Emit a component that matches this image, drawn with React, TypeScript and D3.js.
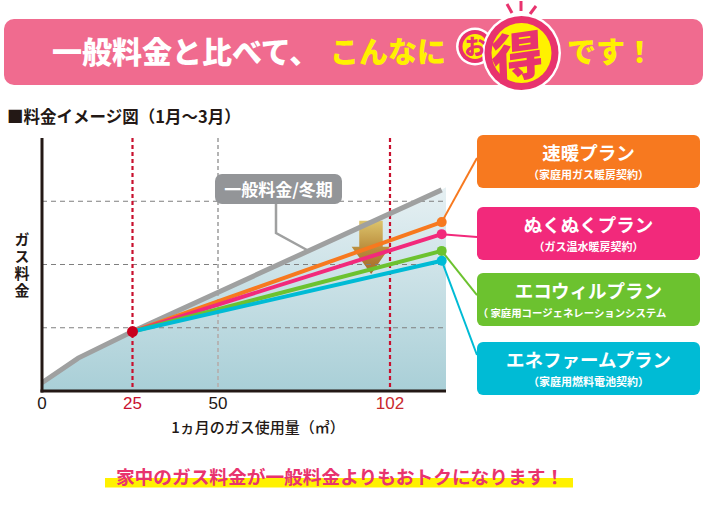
import React from 'react';
import * as d3 from 'd3';

// ---- data ----
const xDomainBreaks = [0, 25, 50, 102, 115];
const xTicks = [0, 25, 50, 102];
const yGridValues = [1, 2, 3];
const generalX = [0, 10, 25, 114];
const generalY = [0.13, 0.52, 0.94, 3.18];
const planNames = ['速暖プラン', 'ぬくぬくプラン', 'エコウィルプラン', 'エネファームプラン'];
const planSubs = ['（家庭用ガス暖房契約）', '（ガス温水暖房契約）', '（ 家庭用コージェネレーションシステム', '（家庭用燃料電池契約）'];
const planStart = { x: 25, y: 0.94 };
const planEndX = 114;
const planEndY = [2.67, 2.48, 2.215, 2.06];
const highlightX = [25, 102];
const referenceX = [50];
const arrowShape: [number, number][] = [
  [92.7, 2.69], [99.8, 2.69], [99.8, 2.28], [102, 2.28], [96.3, 1.85], [90.4, 2.28], [92.7, 2.28],
];

// ---- style / layout ----
const planColors = ['#f7791f', '#f2297b', '#6cc22f', '#00bbd5'];
const boxTops = [135, 207, 273, 342];
const boxH = 53;
const boxX = 477;
const boxW = 223;
const connectorY = [158, 237, 295, 355];
const tickColors: Record<number, string> = { 0: '#231815', 25: '#c8102e', 50: '#231815', 102: '#c8282d' };
const JP = '"Noto Sans CJK JP", "Noto Sans", sans-serif';
const NUM = '"Liberation Sans", Arial, sans-serif';

const x = d3.scaleLinear().domain(xDomainBreaks).range([42, 132.5, 218, 390, 446]);
const y = d3.scaleLinear().domain([0, 4]).range([391, 138]);

export default function App() {
  const general = generalX.map((v, i) => ({ x: v, y: generalY[i] }));
  const areaData = [...general, { x: 115, y: 3.22 }];
  const line = d3.line<{ x: number; y: number }>().x(d => x(d.x)).y(d => y(d.y));
  const area = d3.area<{ x: number; y: number }>().x(d => x(d.x)).y0(y(0)).y1(d => y(d.y));
  const arrowPath = d3.line<[number, number]>().x(d => x(d[0])).y(d => y(d[1]))(arrowShape) + 'Z';
  const x0 = x(0), x1 = x(115), yTop = y(4), yBot = y(0);

  return (
    <svg width={705} height={505} style={{ position: 'absolute', left: 0, top: 0, background: '#fff' }}>
      <defs>
        <linearGradient id="fillGrad" x1="0" y1={y(3.22)} x2="0" y2={yBot} gradientUnits="userSpaceOnUse">
          <stop offset="0" stopColor="#e6f0f3" />
          <stop offset="1" stopColor="#a9cfd7" />
        </linearGradient>
        <linearGradient id="arrowGrad" x1="0" y1="0" x2="0" y2="1">
          <stop offset="0" stopColor="#dcc46c" />
          <stop offset="0.55" stopColor="#b98a3a" />
          <stop offset="1" stopColor="#a5672a" />
        </linearGradient>
      </defs>

      {/* Header banner */}
      <rect x={4} y={19} width={699} height={66} rx={10} fill="#f06b8f" />
      <text x={52} y={63} fontFamily={JP} fontWeight={900} fontSize={30} fill="#fff">一般料金と比べて、</text>
      <text x={330} y={63} fontFamily={JP} fontWeight={900} fontSize={29} fill="#fff100">こんなに</text>
      <text x={567} y={63} fontFamily={JP} fontWeight={900} fontSize={29} fill="#fff100">です！</text>
      {/* badge */}
      <g>
        <line x1={507} y1={4} x2={512} y2={13} stroke="#e8336e" strokeWidth={3} />
        <line x1={521} y1={1} x2={521} y2={11} stroke="#e8336e" strokeWidth={3} />
        <line x1={536} y1={6} x2={530} y2={14} stroke="#e8336e" strokeWidth={3} />
        <circle cx={475} cy={46.5} r={19} fill="#fff" />
        <circle cx={475} cy={46.5} r={16.5} fill="#e8336e" />
        <circle cx={475} cy={46.5} r={12.5} fill="#fff100" />
        <circle cx={521.5} cy={53} r={39.5} fill="#fff" />
        <circle cx={521.5} cy={53} r={37} fill="#e8336e" />
        <circle cx={521.5} cy={53} r={30} fill="#fff100" />
        <text x={475} y={54} textAnchor="middle" fontFamily={JP} fontWeight={900} fontSize={21} fill="#e8336e">お</text>
        <text x={0} y={0} textAnchor="middle" fontFamily={JP} fontWeight={900} fontSize={52} fill="#e8336e"
          transform="translate(518,76) rotate(-8) skewX(-6)">得</text>
      </g>

      {/* Subtitle */}
      <text x={7} y={123} fontFamily={JP} fontWeight={700} fontSize={16.5} fill="#231815">■料金イメージ図（1月〜3月）</text>

      {/* plot */}
      <path d={area(areaData) || ''} fill="url(#fillGrad)" />
      <path d={arrowPath} fill="url(#arrowGrad)" />
      {yGridValues.map(v => (
        <line key={v} x1={x0} x2={x1} y1={y(v)} y2={y(v)} stroke="#7f7f7f" strokeWidth={1} strokeDasharray="5,4" />
      ))}
      {referenceX.map(v => (
        <line key={v} x1={x(v)} x2={x(v)} y1={yTop} y2={yBot} stroke="#b4b4b4" strokeWidth={2} strokeDasharray="4,3" />
      ))}
      {highlightX.map(v => (
        <line key={v} x1={x(v)} x2={x(v)} y1={yTop} y2={yBot} stroke="#c8102e" strokeWidth={2.2} strokeDasharray="4,3" />
      ))}

      {/* leader for general label */}
      <polyline points="276,204 276,233 307,250" fill="none" stroke="#9fa0a0" strokeWidth={2.5} />
      <path d={line(general) || ''} fill="none" stroke="#9fa0a0" strokeWidth={5} />

      {/* plan lines */}
      {planEndY.map((v, i) => (
        <path key={i} d={line([planStart, { x: planEndX, y: v }]) || ''} fill="none" stroke={planColors[i]} strokeWidth={4} />
      ))}
      {/* connectors */}
      {planEndY.map((v, i) => (
        <line key={i} x1={x(planEndX)} y1={y(v)} x2={boxX} y2={connectorY[i]} stroke={planColors[i]} strokeWidth={2} />
      ))}
      {planEndY.map((v, i) => (
        <circle key={i} cx={x(planEndX)} cy={y(v)} r={5} fill={planColors[i]} />
      ))}
      <circle cx={x(planStart.x)} cy={y(planStart.y)} r={5.5} fill="#c8001e" />

      {/* general label box */}
      <rect x={215} y={174} width={127} height={30} rx={7} fill="#939598" />
      <text x={278.5} y={196} textAnchor="middle" fontFamily={JP} fontWeight={700} fontSize={17} fill="#fff">一般料金/冬期</text>

      {/* axes */}
      <line x1={x0} x2={x0} y1={yTop} y2={yBot + 1.5} stroke="#231815" strokeWidth={3} />
      <line x1={x0 - 1.5} x2={x1} y1={yBot} y2={yBot} stroke="#231815" strokeWidth={3} />
      {xTicks.map(t => (
        <text key={t} x={x(t)} y={409} textAnchor="middle" fontFamily={NUM} fontSize={17} fill={tickColors[t]}>{t}</text>
      ))}
      <text x={258} y={433} textAnchor="middle" fontFamily={JP} fontWeight={500} fontSize={15} fill="#231815">1ヵ月のガス使用量（㎥）</text>
      <text x={22} y={232} fontFamily={JP} fontWeight={700} fontSize={15} fill="#231815"
        letterSpacing={2} style={{ writingMode: 'vertical-rl' }}>ガス料金</text>

      {/* legend boxes */}
      {planNames.map((n, i) => (
        <g key={i}>
          <rect x={boxX} y={boxTops[i]} width={boxW} height={boxH} rx={6} fill={planColors[i]} />
          <text x={boxX + boxW / 2} y={boxTops[i] + 25} textAnchor="middle" fontFamily={JP} fontWeight={700} fontSize={18.5} fill="#fff">{n}</text>
          <text x={i === 2 ? 572 : boxX + boxW / 2} y={boxTops[i] + 43.5} textAnchor="middle" fontFamily={JP} fontWeight={700} fontSize={i === 2 ? 10.4 : 11} fill="#fff">{planSubs[i]}</text>
        </g>
      ))}

      {/* bottom message */}
      <rect x={105} y={478} width={468} height={9.5} fill="#fff100" />
      <text x={340} y={484} textAnchor="middle" fontFamily={JP} fontWeight={700} fontSize={18.7} fill="#e8336e">家中のガス料金が一般料金よりもおトクになります！</text>
    </svg>
  );
}
